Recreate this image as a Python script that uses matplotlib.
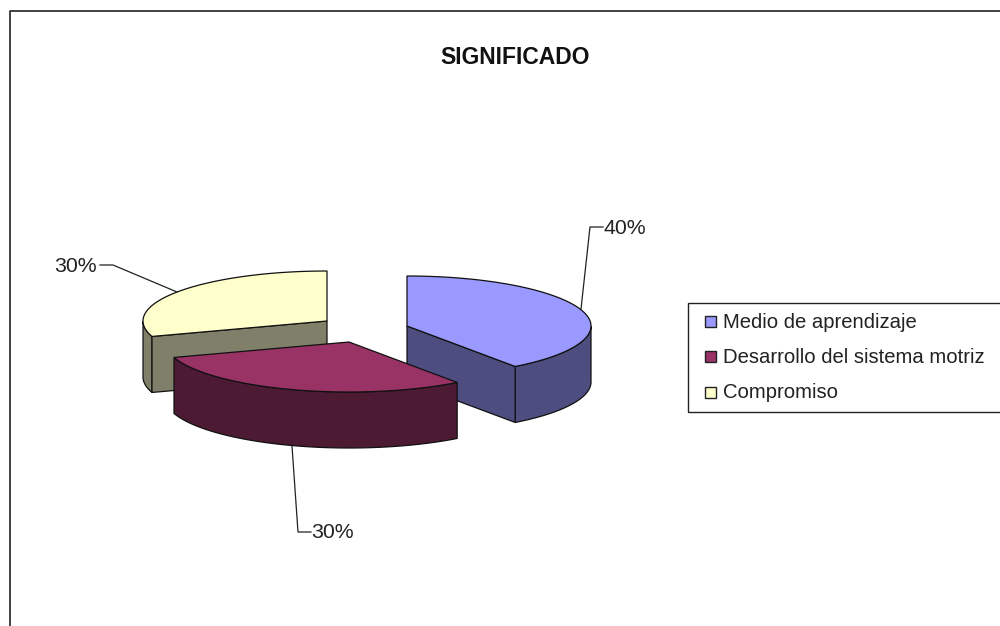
import numpy as np
import matplotlib
matplotlib.use('Agg')
import matplotlib.pyplot as plt
from matplotlib.patches import Polygon, Rectangle

plt.rcParams['font.family'] = ['Liberation Sans', 'DejaVu Sans']

titulo = 'SIGNIFICADO'
categorias = ['Medio de aprendizaje', 'Desarrollo del sistema motriz', 'Compromiso']
valores = [40, 30, 30]
cores_topo = ['#9999FF', '#993366', '#FFFFCC']
cores_lado = ['#4D4D80', '#4D1A33', '#80806A']

# geometria da pizza em pixels
rx, ry, altura = 184, 50, 56
centros = [(407, 326), (349, 342), (327, 321)]
camadas = [4, 8, 0]  # amarelo atras, depois azul, vinho na frente
linhas_rotulo = [
    [(581, 309), (590, 227), (603, 227)],
    [(292, 446), (298, 532), (311, 532)],
    [(177, 292), (113, 265), (100, 265)],
]
pos_rotulo = [(604, 228), (311, 533), (54, 266)]

fig = plt.figure(figsize=(10, 6.26), dpi=100)
ax = fig.add_axes([0, 0, 1, 1])
ax.set_xlim(0, 1000)
ax.set_ylim(626, 0)
ax.axis('off')


def elipse(cx, cy, t1, t2):
    t = np.radians(np.linspace(t1, t2, 80))
    return np.column_stack([cx + rx * np.sin(t), cy - ry * np.cos(t)])


def fatia(i, t1, t2):
    cx, cy = centros[i]
    z = camadas[i]
    # parede externa, so a parte da frente aparece
    a, b = max(t1, 90), min(t2, 270)
    if a < b:
        parede = elipse(cx, cy, a, b)
        pts = np.vstack([parede, parede[::-1] + [0, altura]])
        ax.add_patch(Polygon(pts, fc=cores_lado[i], ec='#111111', lw=0.9, zorder=z))
    # faces do corte
    for t, visivel in ((t1, 180 < t1 < 360), (t2, 0 < t2 < 180)):
        if visivel:
            p = elipse(cx, cy, t, t)[0]
            face = [(cx, cy), p, p + [0, altura], (cx, cy + altura)]
            ax.add_patch(Polygon(face, fc=cores_lado[i], ec='#111111', lw=0.9, zorder=z + 1))
    topo = np.vstack([[(cx, cy)], elipse(cx, cy, t1, t2)])
    ax.add_patch(Polygon(topo, fc=cores_topo[i], ec='#111111', lw=0.9, zorder=z + 2))


angulos = np.cumsum([0] + valores) / sum(valores) * 360
for i in range(len(valores)):
    fatia(i, angulos[i], angulos[i + 1])

for i, v in enumerate(valores):
    xs, ys = zip(*linhas_rotulo[i])
    ax.plot(xs, ys, color='#222222', lw=0.9, zorder=12)
    ax.text(pos_rotulo[i][0], pos_rotulo[i][1], f'{v}%', fontsize=15.3, color='#222222',
            ha='left', va='center', zorder=13)

ax.text(515, 57, titulo, fontsize=16.5, fontweight='bold', color='#111111', ha='center', va='center')

# legenda
ax.add_patch(Rectangle((688, 303), 330, 109, fc='white', ec='#222222', lw=1, zorder=14))
for i, nome in enumerate(categorias):
    y = 321 + i * 35.5
    ax.add_patch(Rectangle((705, y - 5.5), 11, 11, fc=cores_topo[i], ec='#222222', lw=1, zorder=15))
    ax.text(723, y + 1, nome, fontsize=14.6, color='#222222', ha='left', va='center', zorder=15)

# moldura do grafico
ax.plot([9.5, 9.5, 1000], [626, 10.5, 10.5], color='#333333', lw=1.3, zorder=16)

fig.savefig('out.png', dpi=100)
